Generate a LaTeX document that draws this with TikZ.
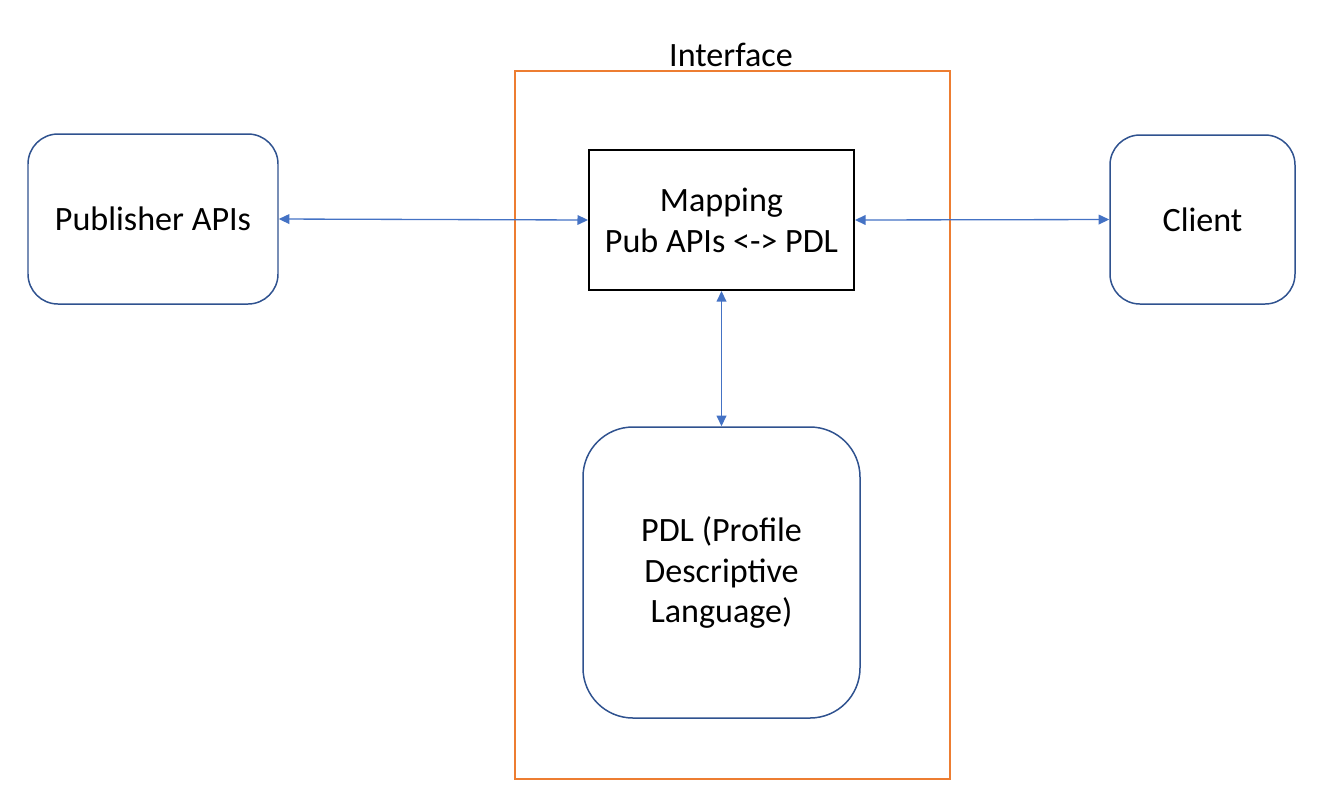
\documentclass[tikz,border=0pt]{standalone}
\usepackage{fontspec}
\setmainfont{Carlito}
\usetikzlibrary{arrows.meta}
\definecolor{boxblue}{RGB}{47,82,143}
\definecolor{linkblue}{RGB}{68,114,196}
\definecolor{ifaceorange}{RGB}{237,125,49}
\begin{document}
\begin{tikzpicture}[
    every node/.style={font=\fontsize{19.4}{23.3}\selectfont, align=center, inner sep=0pt},
    rbox/.style={draw=boxblue, line width=0.85pt, rounded corners=0.6cm},
    mbox/.style={draw=black, line width=1.1pt},
    link/.style={draw=linkblue, line width=0.75pt, {Triangle[length=6pt,width=5.5pt]}-{Triangle[length=6pt,width=5.5pt]}}
]
\useasboundingbox (0,0) rectangle (26.72,-16.18);

% interface frame
\draw[ifaceorange, line width=1.1pt] (10.3,-1.42) rectangle (19.0,-15.58);
\node (iface) at (14.62,-1.1) {Interface};

\node[rbox, minimum width=5cm, minimum height=3.4cm] (pub) at (3.06,-4.38) {Publisher APIs};
\node[mbox, minimum width=5.3cm, minimum height=2.8cm] (map) at (14.43,-4.40) {Mapping\\Pub APIs <-> PDL};
\node[rbox, minimum width=3.7cm, minimum height=3.38cm] (cli) at (24.05,-4.39) {Client};
\node[rbox, rounded corners=1cm, minimum width=5.54cm, minimum height=5.82cm] (pdl) at (14.43,-11.45) {PDL (Profile\\Descriptive\\Language)};

\draw[link] (pub.east) -- (map.west);
\draw[link] (map.east) -- (cli.west);
\draw[link] (map.south) -- (pdl.north);

\end{tikzpicture}
\end{document}
